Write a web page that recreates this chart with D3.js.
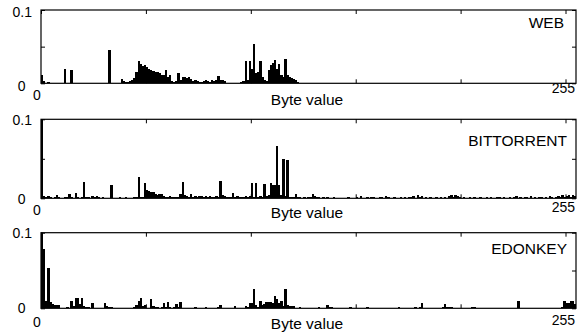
<!DOCTYPE html>
<html>
<head>
<meta charset="utf-8">
<script src="https://cdn.jsdelivr.net/npm/d3@7"></script>
<style>
  body { margin: 0; background: #fff; }
  svg { display: block; font-family: "Liberation Sans", Arial, Helvetica, sans-serif; }
</style>
</head>
<body>
<svg id="chart" width="578" height="334"></svg>
<script>
// byte value frequencies, one array per traffic class (bytes 0..255)
const web = [
  0.011, 0.003, 0.001, 0.002, 0.001, 0.0005, 0.0005, 0.0005, 0.0005, 0.0005, 0.0005, 0.019, 0.0005, 0.0005, 0.018, 0.0005,
  0.0005, 0.0005, 0.0005, 0.0005, 0.0005, 0.0005, 0.001, 0.001, 0.0005, 0.0005, 0.0005, 0.0005, 0.0005, 0.0005, 0.0005, 0.0005,
  0.046, 0.0005, 0.0005, 0.0005, 0.0005, 0.001, 0.0055, 0.003, 0.002, 0.002, 0.003, 0.004, 0.007, 0.016, 0.030, 0.026,
  0.023, 0.025, 0.022, 0.020, 0.018, 0.017, 0.016, 0.015, 0.014, 0.012, 0.011, 0.018, 0.009, 0.011, 0.003, 0.002,
  0.003, 0.014, 0.005, 0.008, 0.009, 0.007, 0.008, 0.006, 0.003, 0.004, 0.003, 0.002, 0.002, 0.003, 0.004, 0.003,
  0.002, 0.004, 0.003, 0.005, 0.010, 0.005, 0.004, 0.003, 0.001, 0.001, 0.001, 0.001, 0.001, 0.001, 0.001, 0.002,
  0.003, 0.030, 0.004, 0.031, 0.020, 0.053, 0.014, 0.016, 0.030, 0.009, 0.004, 0.003, 0.018, 0.025, 0.028, 0.032,
  0.020, 0.026, 0.011, 0.008, 0.033, 0.011, 0.009, 0.007, 0.006, 0.004, 0.002, 0.001, 0.0005, 0.0005, 0.0005, 0.0005,
  0, 0, 0, 0, 0, 0, 0, 0, 0, 0, 0, 0, 0, 0, 0, 0,
  0, 0, 0, 0, 0, 0, 0, 0, 0, 0, 0, 0, 0, 0, 0, 0,
  0, 0, 0, 0, 0, 0, 0, 0, 0, 0, 0, 0, 0, 0, 0, 0,
  0, 0, 0, 0, 0, 0, 0, 0, 0, 0, 0, 0, 0, 0, 0, 0,
  0, 0, 0, 0, 0, 0, 0, 0, 0, 0, 0, 0, 0, 0, 0, 0,
  0, 0, 0, 0, 0, 0, 0, 0, 0, 0, 0, 0, 0, 0, 0, 0,
  0, 0, 0, 0, 0, 0, 0, 0, 0, 0, 0, 0, 0, 0, 0, 0,
  0, 0, 0, 0, 0, 0, 0, 0, 0, 0, 0, 0, 0, 0, 0, 0
]
const bittorrent = [
  0.12, 0.003, 0.002, 0.003, 0.002, 0.001, 0.002, 0.004, 0.002, 0.001, 0.001, 0.002, 0.002, 0.006, 0.002, 0.001,
  0.007, 0.002, 0.001, 0.002, 0.021, 0.002, 0.002, 0.001, 0.003, 0.002, 0.003, 0.002, 0.001, 0.002, 0.001, 0.001,
  0.001, 0.017, 0.001, 0.001, 0.001, 0.002, 0.001, 0.001, 0.002, 0.001, 0.001, 0.001, 0.002, 0.002, 0.027, 0.002,
  0.002, 0.019, 0.010, 0.009, 0.008, 0.008, 0.006, 0.004, 0.006, 0.005, 0.003, 0.002, 0.002, 0.003, 0.002, 0.002,
  0.002, 0.002, 0.006, 0.021, 0.004, 0.003, 0.002, 0.005, 0.002, 0.003, 0.002, 0.003, 0.003, 0.002, 0.003, 0.002,
  0.003, 0.002, 0.002, 0.003, 0.002, 0.022, 0.004, 0.003, 0.002, 0.002, 0.002, 0.007, 0.002, 0.003, 0.002, 0.002,
  0.002, 0.003, 0.002, 0.003, 0.019, 0.002, 0.020, 0.002, 0.003, 0.002, 0.018, 0.003, 0.004, 0.019, 0.017, 0.017,
  0.066, 0.017, 0.004, 0.050, 0.003, 0.049, 0.002, 0.002, 0.002, 0.0055, 0.002, 0.002, 0.001, 0.002, 0.001, 0.002,
  0.002, 0.006, 0.003, 0.002, 0.002, 0.001, 0.002, 0.001, 0.002, 0.001, 0.001, 0.002, 0.001, 0.001, 0.001, 0.001,
  0.001, 0.001, 0.002, 0.001, 0.001, 0.001, 0.002, 0.001, 0.003, 0.001, 0.001, 0.002, 0.001, 0.002, 0.002, 0.001,
  0.001, 0.002, 0.002, 0.001, 0.003, 0.002, 0.001, 0.001, 0.002, 0.001, 0.001, 0.002, 0.001, 0.002, 0.001, 0.002,
  0.002, 0.003, 0.001, 0.004, 0.002, 0.003, 0.001, 0.002, 0.001, 0.002, 0.001, 0.001, 0.002, 0.001, 0.002, 0.001,
  0.002, 0.001, 0.003, 0.004, 0.002, 0.004, 0.003, 0.002, 0.001, 0.002, 0.001, 0.001, 0.002, 0.001, 0.002, 0.001,
  0.001, 0.002, 0.001, 0.001, 0.002, 0.001, 0.002, 0.001, 0.001, 0.002, 0.002, 0.001, 0.002, 0.001, 0.001, 0.002,
  0.001, 0.002, 0.003, 0.001, 0.002, 0.001, 0.002, 0.002, 0.001, 0.003, 0.001, 0.002, 0.001, 0.002, 0.002, 0.001,
  0.002, 0.001, 0.003, 0.002, 0.001, 0.002, 0.003, 0.002, 0.004, 0.002, 0.003, 0.004, 0.002, 0.004, 0.003, 0.002
]
const edonkey = [
  0.12, 0.079, 0.009, 0.053, 0.008, 0.006, 0.004, 0.005, 0.004, 0.001, 0.001, 0.001, 0.002, 0.001, 0.010, 0.003,
  0.013, 0.013, 0.006, 0.013, 0.003, 0.002, 0.002, 0.001, 0.0066, 0.001, 0.001, 0.001, 0.001, 0.001, 0.0075, 0.003,
  0.002, 0.002, 0.001, 0.001, 0.001, 0.001, 0.001, 0.001, 0.001, 0.001, 0.001, 0.001, 0.002, 0.005, 0.009, 0.0137,
  0.003, 0.005, 0.001, 0.001, 0.012, 0.003, 0.002, 0.002, 0.001, 0.002, 0.0066, 0.002, 0.0084, 0.002, 0.001, 0.002,
  0.0053, 0.002, 0.0084, 0.001, 0.001, 0.001, 0.001, 0.001, 0.001, 0.002, 0.001, 0.001, 0.001, 0.001, 0.002, 0.001,
  0.001, 0.001, 0.001, 0.001, 0.002, 0.005, 0.001, 0.001, 0.001, 0.001, 0.001, 0.001, 0.003, 0.001, 0.001, 0.001,
  0.001, 0.003, 0.002, 0.007, 0.007, 0.026, 0.005, 0.002, 0.010, 0.005, 0.006, 0.008, 0.008, 0.008, 0.007, 0.016,
  0.012, 0.007, 0.009, 0.003, 0.025, 0.004, 0.0035, 0.003, 0.003, 0.001, 0.001, 0.002, 0.001, 0.001, 0.001, 0.001,
  0.001, 0.001, 0.001, 0.001, 0.002, 0.001, 0.001, 0.001, 0.005, 0.002, 0.002, 0.001, 0.001, 0.001, 0.001, 0.001,
  0.001, 0.001, 0.001, 0.002, 0.001, 0.001, 0.001, 0.001, 0.001, 0.001, 0.001, 0.002, 0.001, 0.001, 0.001, 0.001,
  0.001, 0.001, 0.001, 0.001, 0.001, 0.001, 0.001, 0.001, 0.001, 0.001, 0.002, 0.001, 0.001, 0.001, 0.001, 0.001,
  0.001, 0.001, 0.002, 0.001, 0.002, 0.0066, 0.001, 0.001, 0.001, 0.001, 0.001, 0.001, 0.001, 0.001, 0.001, 0.002,
  0.0057, 0.002, 0.002, 0.002, 0.001, 0.001, 0.001, 0.001, 0.001, 0.001, 0.001, 0.001, 0.001, 0.002, 0.002, 0.001,
  0.001, 0.001, 0.001, 0.001, 0.001, 0.001, 0.001, 0.001, 0.001, 0.001, 0.001, 0.001, 0.001, 0.001, 0.001, 0.001,
  0.001, 0.001, 0.001, 0.009, 0.001, 0.001, 0.001, 0.001, 0.001, 0.001, 0.001, 0.001, 0.001, 0.001, 0.001, 0.001,
  0.001, 0.001, 0.001, 0.001, 0.001, 0.001, 0.001, 0.001, 0.002, 0.0097, 0.0066, 0.0066, 0.009, 0.009, 0.006, 0.004
]
const panelNames = ['WEB', 'BITTORRENT', 'EDONKEY']
const xTicks = [0, 50, 100, 150, 200, 250]
const yTicks = [0, 0.05, 0.1]
const xEndLabels = ['0', '255']
const xTitle = 'Byte value'

const series = [web, bittorrent, edonkey]

// where each panel sits, and the slightly uneven label offsets of the original
const panels = [
  { top: 10, bottom: 83.3, name: [564, 28.3], y0: 90.5, y1: 16.7, x0: 100, x255: 93, title: 105 },
  { top: 119.3, bottom: 198.3, name: [567, 146], y0: 204, y1: 125, x0: 215, x255: 211.7, title: 217.5 },
  { top: 232.7, bottom: 308.3, name: [567, 254], y0: 313, y1: 238.3, x0: 327, x255: 325, title: 329 },
]
const left = 41
const right = 576
const tickLen = 4

const svg = d3.select('#chart')
const x = d3.scaleLinear().domain([0, 255]).range([left, right])
const barW = x(1) - x(0)

panels.forEach((p, i) => {
  const data = series[i]
  const y = d3.scaleLinear().domain([0, 0.1]).range([p.bottom, p.top])
  const g = svg.append('g').attr('class', 'panel')

  g.append('clipPath').attr('id', 'clip' + i)
    .append('rect')
    .attr('x', left).attr('y', p.top)
    .attr('width', right - left).attr('height', p.bottom - p.top)

  // bars (slightly widened so neighbours touch like the original)
  g.append('g')
    .attr('clip-path', `url(#clip${i})`)
    .selectAll('rect')
    .data(data.map((v, b) => ({ b, v })).filter((d) => d.v > 0))
    .enter()
    .append('rect')
    .attr('x', (d) => x(d.b))
    .attr('width', barW + 0.3)
    .attr('y', (d) => y(d.v))
    .attr('height', (d) => y(0) - y(d.v))
    .attr('fill', 'black')
    .attr('shape-rendering', 'crispEdges')

  // inward ticks on all four sides
  const axes = [
    [d3.axisBottom(x), `translate(0,${p.bottom})`, xTicks],
    [d3.axisTop(x), `translate(0,${p.top})`, xTicks],
    [d3.axisLeft(y), `translate(${left},0)`, yTicks],
    [d3.axisRight(y), `translate(${right},0)`, yTicks],
  ]
  axes.forEach(([ax, tr, vals]) => {
    const a = g.append('g')
      .attr('transform', tr)
      .call(ax.tickValues(vals).tickSize(-tickLen).tickFormat(''))
    a.select('.domain').remove()
    a.selectAll('line').attr('stroke', 'black').attr('stroke-width', 1)
  })

  // frame
  g.append('rect')
    .attr('x', left).attr('y', p.top)
    .attr('width', right - left).attr('height', p.bottom - p.top)
    .attr('fill', 'none')
    .attr('stroke', 'black')
    .attr('stroke-width', 1.2)

  // y labels
  g.append('text').attr('x', 32).attr('y', p.y1)
    .attr('text-anchor', 'end').attr('font-size', 14).text(String(yTicks[2]))
  g.append('text').attr('x', 25.5).attr('y', p.y0)
    .attr('text-anchor', 'end').attr('font-size', 14).text(String(yTicks[0]))

  // x end labels
  g.append('text').attr('x', 37).attr('y', p.x0)
    .attr('text-anchor', 'middle').attr('font-size', 14).text(xEndLabels[0])
  g.append('text').attr('x', 575).attr('y', p.x255)
    .attr('text-anchor', 'end').attr('font-size', 14).text(xEndLabels[1])

  // x title
  g.append('text').attr('x', 307).attr('y', p.title)
    .attr('text-anchor', 'middle').attr('font-size', 15.5).text(xTitle)

  // class name
  g.append('text').attr('x', p.name[0]).attr('y', p.name[1])
    .attr('text-anchor', 'end').attr('font-size', 15.5).text(panelNames[i])
})
</script>
</body>
</html>
